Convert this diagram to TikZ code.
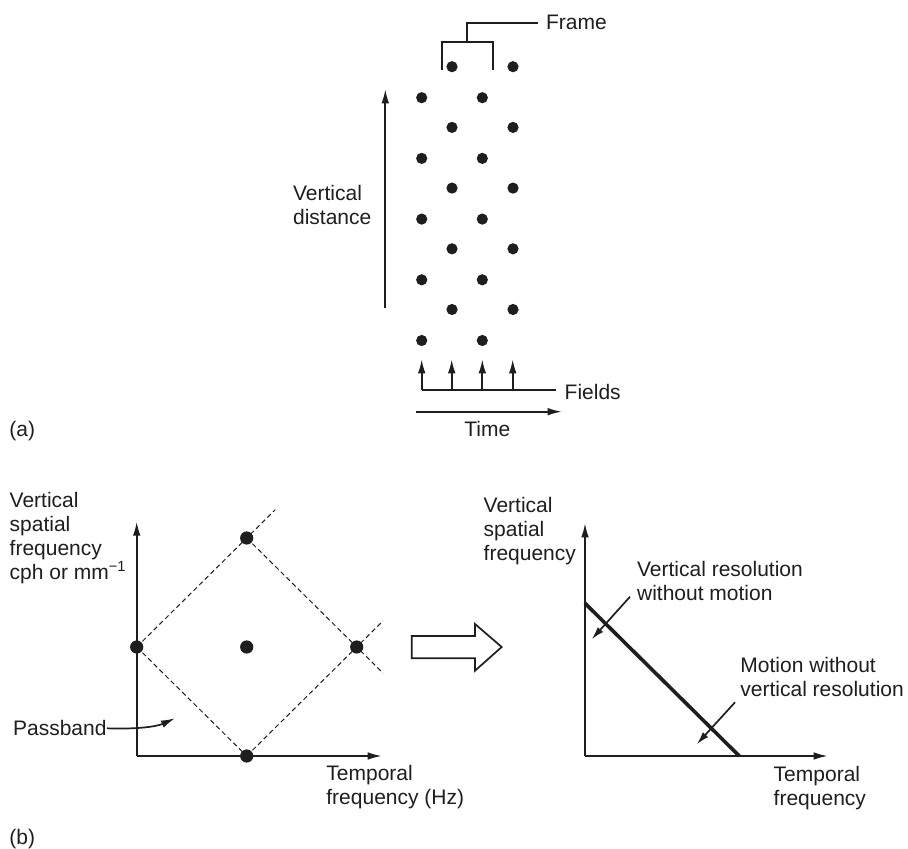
\documentclass[tikz,border=0pt]{standalone}
\usepackage{fontspec}
\setmainfont{Liberation Sans}
\usetikzlibrary{arrows.meta,calc}
\definecolor{ink}{HTML}{1E1E1E}

\begin{document}
\begin{tikzpicture}[x=0.5pt,y=-0.5pt,
  lbl/.style={inner sep=0pt, anchor=west, align=left, text=ink,
              font=\fontsize{10.5}{12}\selectfont},
  dot/.style={circle, fill=ink, inner sep=0pt, minimum size=5.6pt},
  bigdot/.style={circle, fill=ink, inner sep=0pt, minimum size=6.6pt},
  thinline/.style={draw=ink, line width=0.85pt},
  arr/.style={thinline, -{Latex[length=7pt,width=3.8pt]}},
  ptr/.style={thinline, -{Latex[length=6.5pt,width=3.6pt]}},
  dashline/.style={draw=ink, line width=0.5pt, dash pattern=on 2.4pt off 1.6pt},
  thickline/.style={draw=ink, line width=1.8pt}]

\useasboundingbox (0,0) rectangle (908,849);

% ---------- (a) interlaced scanning lattice ----------
\foreach \c/\x/\y in {1/421.7/97.7, 2/452/66.7, 3/482.3/97.7, 4/513/66.7}
  \foreach \r in {0,...,4}
    \node[dot] (d\c\r) at (\x,\y+60.7*\r) {};

% frame bracket
\coordinate (fl) at (441.7,70);
\coordinate (fr) at (493.3,70);
\coordinate (fm) at (467.3,41.7);
\node[lbl] (frame) at (545.7,22.7) {Frame};
\draw[thinline] (fl) |- (fm) -| (fr);
\draw[thinline] (fm) |- ([xshift=-4pt]frame.west);

% vertical distance
\coordinate (vd0) at (385.3,308);
\coordinate (vd1) at (385.3,89.3);
\draw[arr] (vd0) -- (vd1);
\node[lbl] (vdist) at (292.7,205) {Vertical\\distance};

% fields
\node[lbl] (fields) at (564.3,391.7) {Fields};
\foreach \i/\x in {1/421.7, 2/451.7, 3/482.3, 4/512.7}{
  \coordinate (fb\i) at (\x,390);
  \coordinate (ft\i) at (\x,359.3);
  \draw[arr] (fb\i) -- (ft\i);
}
\draw[thinline] (fb1) -- ([xshift=-4.2pt]fields.west |- fb1);

% time
\coordinate (t0) at (416,411.7);
\coordinate (t1) at (561.7,411.7);
\draw[arr] (t0) -- (t1);
\node[lbl, anchor=center] (time) at (487.3,429.3) {Time};

\node[lbl] (la) at (9,431) {(a)};

% ---------- (b) left: passband ----------
\coordinate (o1) at (136.7,756);
\coordinate (y1) at (136.7,521.7);
\coordinate (x1) at (381.7,756);
\draw[arr] (o1) -- (y1);
\draw[arr] (o1) -- (x1);

\node[bigdot] (pL) at (136.7,647) {};
\node[bigdot] (pT) at (246.7,538) {};
\node[bigdot] (pC) at (246.7,647) {};
\node[bigdot] (pR) at (356.7,647) {};
\node[bigdot] (pB) at (246.7,756) {};

\draw[dashline] (pL.center) -- ($(pL.center)!1.26!(pT.center)$);
\draw[dashline] (pT.center) -- ($(pT.center)!1.24!(pR.center)$);
\draw[dashline] (pB.center) -- ($(pB.center)!1.24!(pR.center)$);
\draw[dashline] (pL.center) -- (pB.center);

\node[lbl] (vsf1) at (9.3,538.5)
  {Vertical\\spatial\\frequency\\cph or mm\textsuperscript{\char"2212 1}};
\node[lbl] (tf1) at (326,786.7) {Temporal\\frequency (Hz)};

\node[lbl] (pb) at (12.7,728.3) {Passband};
\coordinate (pbtip) at (175,718.3);
\draw[arr] (pb.east) .. controls (140,729.5) and (158,726) .. (pbtip);

% hollow arrow between the two plots
\draw[thinline, fill=white] (411.7,636) -- (475,636) -- (475,624)
  -- (501.7,647) -- (475,670.7) -- (475,658.3) -- (411.7,658.3) -- cycle;

% ---------- (b) right: resolution trade-off ----------
\coordinate (o2) at (585,756);
\coordinate (y2) at (585,523.3);
\coordinate (x2) at (827.7,756);
\draw[arr] (o2) -- (y2);
\draw[arr] (o2) -- (x2);

\coordinate (lim0) at (585,603.3);
\coordinate (lim1) at (739.3,756);
\draw[thickline] (lim0) -- (lim1);

\node[lbl] (vsf2) at (483.3,531) {Vertical\\spatial\\frequency};
\node[lbl] (vrwm) at (636.7,581.3) {Vertical resolution\\without motion};
\node[lbl] (mwvr) at (740,677.3) {Motion without\\vertical resolution};
\node[lbl] (tf2) at (773.3,788) {Temporal\\frequency};

\coordinate (p1a) at (630,596.7);
\coordinate (p1b) at (591.7,639.3);
\draw[ptr] (p1a) -- (p1b);
\coordinate (p2a) at (735,702.3);
\coordinate (p2b) at (696.7,744.3);
\draw[ptr] (p2a) -- (p2b);

\node[lbl] (lb) at (9,839) {(b)};
\end{tikzpicture}
\end{document}
